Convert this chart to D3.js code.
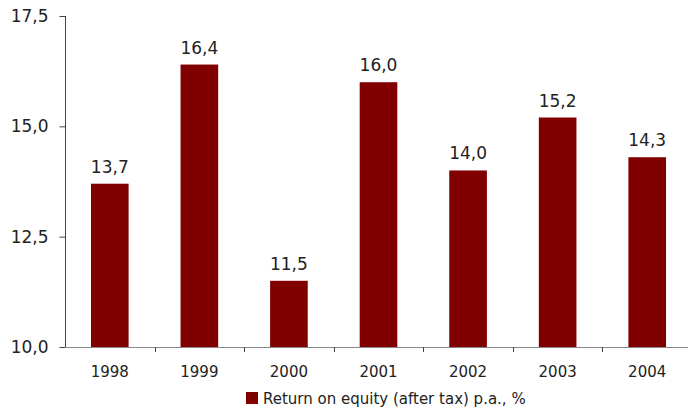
<!DOCTYPE html>
<html>
<head>
<meta charset="utf-8">
<script src="https://cdn.jsdelivr.net/npm/d3@7"></script>
<style>
  html, body { margin: 0; padding: 0; background: #fff; }
  svg text { font-family: "DejaVu Sans", sans-serif; fill: #222; }
</style>
</head>
<body>
<svg id="chart" width="688" height="412"></svg>
<script>
// Return on equity (after tax), per year
const years = ["1998", "1999", "2000", "2001", "2002", "2003", "2004"];
const roe = [13.7, 16.4, 11.5, 16.0, 14.0, 15.2, 14.3];
const yTicks = [10, 12.5, 15, 17.5];
const seriesName = "Return on equity (after tax) p.a., %";

const fmt = v => d3.format(".1f")(v).replace(".", ",");

const svg = d3.select("#chart");
const x = d3.scaleBand().domain(years).range([65, 692]).paddingInner(0.58).paddingOuter(0.29);
const xEdge = d3.scaleLinear().domain([0, years.length]).range([65, 692]);
const y = d3.scaleLinear().domain([10, 17.5]).range([347, 16]);

// bars
svg.append("g").selectAll("rect").data(roe).join("rect")
  .attr("x", (d, i) => x(years[i]))
  .attr("width", x.bandwidth())
  .attr("y", d => y(d))
  .attr("height", d => y(10) - y(d))
  .attr("fill", "#800000");

// value labels
svg.append("g").selectAll("text").data(roe).join("text")
  .attr("x", (d, i) => x(years[i]) + x.bandwidth() / 2)
  .attr("y", d => y(d) - 11)
  .attr("text-anchor", "middle")
  .style("font-size", "17px")
  .text(fmt);

// y axis
const yAxis = svg.append("g").attr("transform", "translate(65.5,0)")
  .call(d3.axisLeft(y).tickValues(yTicks).tickFormat(fmt).tickSize(6).tickPadding(11));
yAxis.select(".domain").attr("stroke", "#444").attr("d", `M0,${y(17.5)}V${y(10)}`);
yAxis.selectAll(".tick line").attr("stroke", "#444");
yAxis.selectAll(".tick text").style("font-size", "17px").attr("fill", "#222");

// x axis baseline with ticks on category boundaries
const xg = svg.append("g");
xg.append("line").attr("x1", 65).attr("x2", 688)
  .attr("y1", y(10) + 0.5).attr("y2", y(10) + 0.5)
  .attr("stroke", "#888");
xg.selectAll("line.tk").data(d3.range(1, years.length)).join("line")
  .attr("class", "tk")
  .attr("x1", d => Math.round(xEdge(d)) + 0.5).attr("x2", d => Math.round(xEdge(d)) + 0.5)
  .attr("y1", y(10)).attr("y2", y(10) + 5)
  .attr("stroke", "#444");
xg.selectAll("text").data(years).join("text")
  .attr("x", d => x(d) + x.bandwidth() / 2)
  .attr("y", 377)
  .attr("text-anchor", "middle")
  .style("font-size", "15px")
  .text(d => d);

// legend
const lg = svg.append("g").attr("transform", "translate(246,392)");
lg.append("rect").attr("width", 12).attr("height", 12).attr("fill", "#800000");
lg.append("text").attr("x", 17).attr("y", 11.5).style("font-size", "15px").text(seriesName);
</script>
</body>
</html>
